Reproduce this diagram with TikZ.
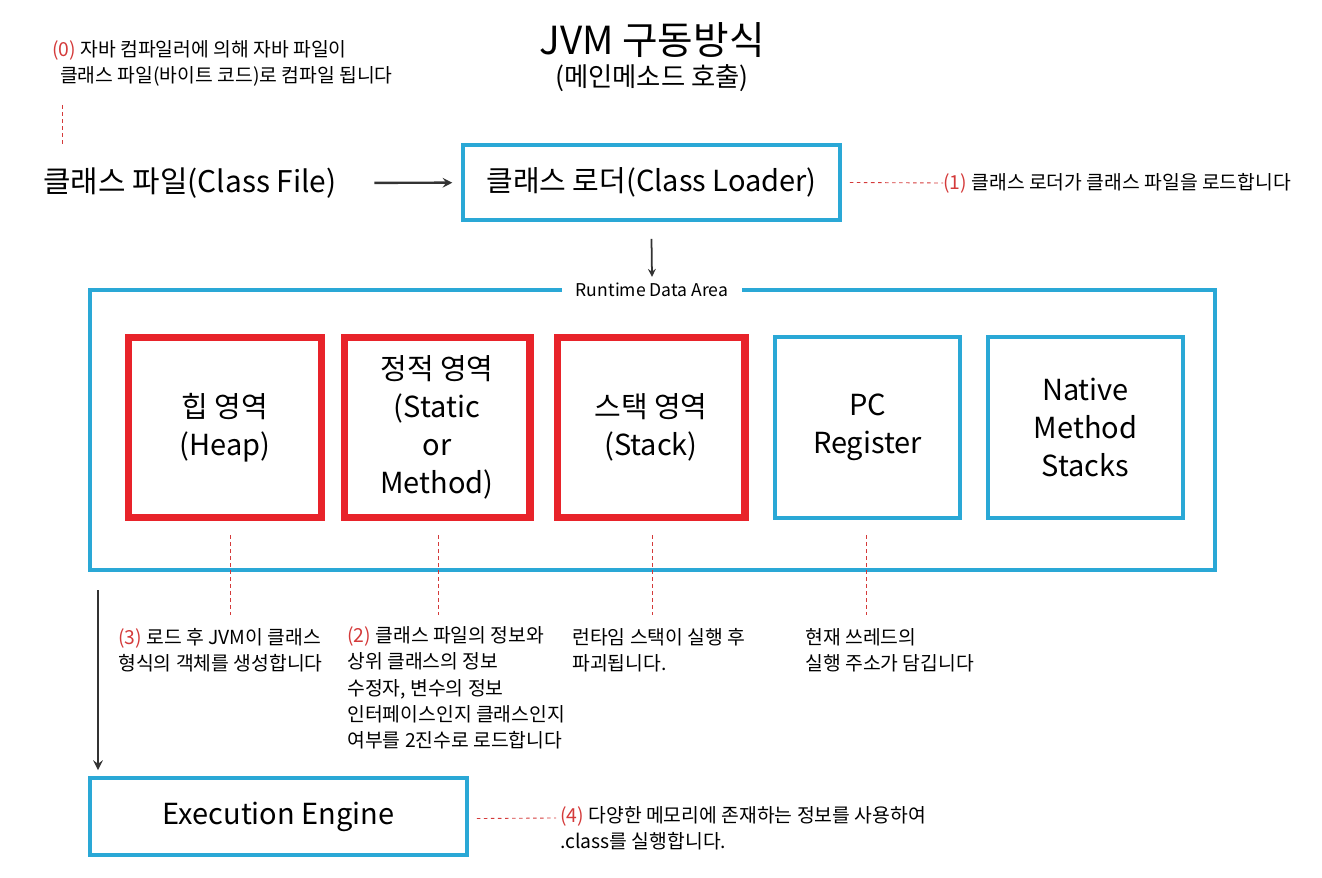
\documentclass[tikz,border=0pt]{standalone}
\usepackage{fontspec}
\setmainfont{Noto Sans CJK KR}
\usetikzlibrary{positioning}
\definecolor{jblue}{HTML}{2AA8D6}
\definecolor{jred}{HTML}{E8232A}
\definecolor{nred}{HTML}{D43A3A}
\tikzset{
  bluebox/.style={draw=jblue, line width=2.2pt, align=center, font=\fontsize{16.5}{21.5}\selectfont},
  redbox/.style={draw=jred, line width=4pt, align=center, font=\fontsize{16.5}{21.5}\selectfont},
  note/.style={align=left, font=\fontsize{11}{15}\selectfont, anchor=north west, inner sep=0pt},
  guide/.style={draw=nred, dashed, dash pattern=on 2pt off 2pt, line width=0.5pt},
  flow/.style={->, >=stealth, line width=1.4pt, draw=black!80}
}
\begin{document}
\begin{tikzpicture}[x=0.02cm, y=-0.02cm]
  \useasboundingbox (0,0) rectangle (1322,878);
  % title
  \node[font=\fontsize{22}{26}\selectfont] (title) at (652,40) {JVM 구동방식};
  \node[font=\fontsize{15}{18}\selectfont] (subtitle) at (652,78) {(메인메소드 호출)};
  % step 0
  \node[note] (n0) at (52,40) {\textcolor{nred}{(0)} 자바 컴파일러에 의해 자바 파일이\\\hspace*{0.4em}클래스 파일(바이트 코드)로 컴파일 됩니다};
  \coordinate (g0a) at (62,105);
  \coordinate (g0b) at (62,147);
  \draw[guide] (g0a) -- (g0b);
  % class file and loader
  \node[font=\fontsize{17}{22}\selectfont] (file) at (190,183) {클래스 파일(Class File)};
  \node[bluebox, minimum width=7.54cm, minimum height=1.5cm] (loader) at (651.5,182.5) {클래스 로더(Class Loader)};
  \draw[flow, shorten <=18pt, shorten >=5pt] (file) -- (loader);
  \node[note, anchor=west] (n1) at (943,183) {\textcolor{nred}{(1)} 클래스 로더가 클래스 파일을 로드합니다};
  \draw[guide] (loader.east) ++(8,0) -- (n1.west);
  % runtime data area
  \node[draw=jblue, line width=2.2pt, minimum width=22.5cm, minimum height=5.6cm] (rda) at (652.5,430) {};
  \node[fill=white, font=\fontsize{10}{12}\selectfont, inner xsep=8pt] (rdalabel) at (652,290) {Runtime Data Area};
  \draw[flow, line width=1pt] (loader.south) ++(0,17) coordinate (la) -- (rdalabel.north);
  \node[redbox, minimum width=3.88cm, minimum height=3.62cm] (heap) at (225,427.5) {힙 영역\\(Heap)};
  \node[redbox, minimum width=3.72cm, minimum height=3.62cm] (static) at (437,427.5) {정적 영역\\(Static\\or\\Method)};
  \node[redbox, minimum width=3.76cm, minimum height=3.62cm] (stack) at (651,427.5) {스택 영역\\(Stack)};
  \node[bluebox, minimum width=3.7cm, minimum height=3.62cm] (pc) at (867.5,427.5) {PC\\Register};
  \node[bluebox, minimum width=3.9cm, minimum height=3.62cm] (native) at (1085.5,427.5) {Native\\Method\\Stacks};
  % notes below areas
  \node[note] (n3) at (118,628) {\textcolor{nred}{(3)} 로드 후 JVM이 클래스\\형식의 객체를 생성합니다};
  \node[note] (n2) at (347,626) {\textcolor{nred}{(2)} 클래스 파일의 정보와\\상위 클래스의 정보\\수정자, 변수의 정보\\인터페이스인지 클래스인지\\여부를 2진수로 로드합니다};
  \node[note] (nst) at (572,628) {런타임 스택이 실행 후\\파괴됩니다.};
  \node[note] (npc) at (805,628) {현재 쓰레드의\\실행 주소가 담깁니다};
  \foreach \area/\xx in {heap/230, static/438, stack/652, pc/866} {
    \draw[guide] (\xx,535) -- (\xx,615);
  }
  % execution engine
  \node[bluebox, minimum width=7.54cm, minimum height=1.54cm] (engine) at (278.5,816.5) {Execution Engine};
  \coordinate (down) at (98,590);
  \draw[flow] (down) -- (98,770);
  \node[note, anchor=north west] (n4) at (560,806) {\textcolor{nred}{(4)} 다양한 메모리에 존재하는 정보를 사용하여\\.class를 실행합니다.};
  \coordinate (g4) at (556,818);
  \draw[guide] (engine.east) ++(8,2) -- (g4);
\end{tikzpicture}
\end{document}
